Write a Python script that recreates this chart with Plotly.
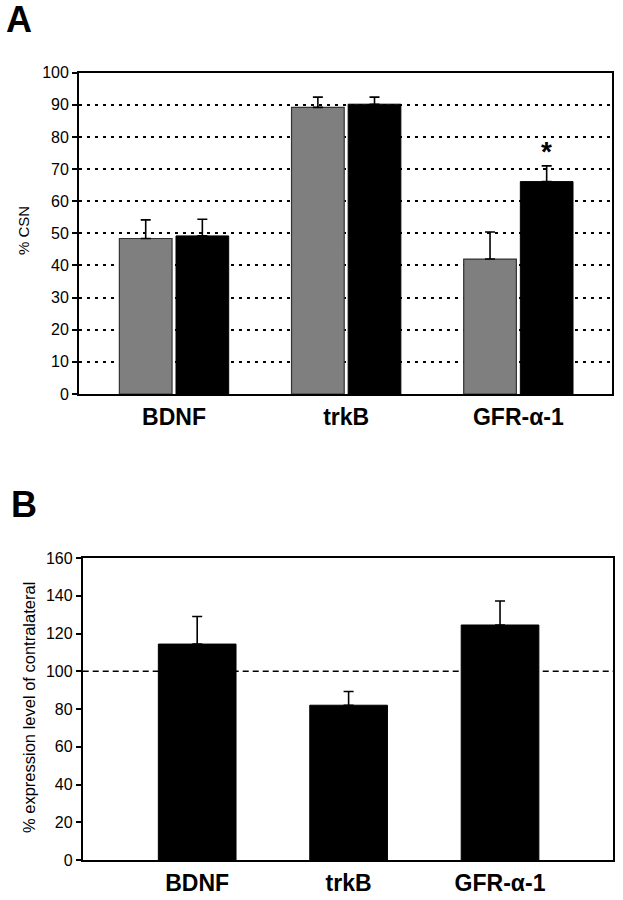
import plotly.graph_objects as go

# ---------------- data ----------------
CATEGORIES = ["BDNF", "trkB", "GFR-α-1"]

# Panel A: % CSN
A_GRAY = [48.4, 89.2, 42.0]
A_GRAY_ERR = [5.8, 3.2, 8.4]
A_BLACK = [49.2, 90.2, 66.1]
A_BLACK_ERR = [5.2, 2.2, 4.9]
A_TICKS = [0, 10, 20, 30, 40, 50, 60, 70, 80, 90, 100]
A_STAR_CAT = "GFR-α-1"
A_STAR_Y = 75.5

# Panel B: % expression level of contralateral
B_VALUES = [114.4, 82.0, 124.5]
B_ERR = [14.6, 7.3, 12.7]
B_TICKS = [0, 20, 40, 60, 80, 100, 120, 140, 160]
B_REF = 100

# ---------------- styling ----------------
FONT = "Liberation Sans, Arial, Helvetica, sans-serif"
W, H = 623, 900
A_BARGAP = 0.342
A_GROUPGAP = 0.07
B_BARGAP = 0.487

fig = go.Figure()

err_style = dict(type="data", symmetric=False, arrayminus=None,
                 thickness=1.6, width=5, color="black")

fig.add_trace(go.Bar(
    x=CATEGORIES, y=A_GRAY, xaxis="x", yaxis="y",
    marker=dict(color="#7f7f7f", line=dict(color="#333333", width=1.2)),
    error_y=dict(array=A_GRAY_ERR, **err_style),
    showlegend=False, offsetgroup="a1"))
fig.add_trace(go.Bar(
    x=CATEGORIES, y=A_BLACK, xaxis="x", yaxis="y",
    marker=dict(color="black", line=dict(color="black", width=1)),
    error_y=dict(array=A_BLACK_ERR, **err_style),
    showlegend=False, offsetgroup="a2"))

fig.add_trace(go.Bar(
    x=CATEGORIES, y=B_VALUES, xaxis="x2", yaxis="y2",
    marker=dict(color="black", line=dict(color="black", width=1)),
    error_y=dict(array=B_ERR, **err_style),
    width=1 - B_BARGAP,
    showlegend=False))

axis_common = dict(showline=True, linecolor="black", linewidth=1.8,
                   mirror=True, automargin=False, zeroline=False)

fig.update_layout(
    width=W, height=H,
    margin=dict(l=0, r=0, t=0, b=0),
    paper_bgcolor="white", plot_bgcolor="white",
    barmode="group", bargap=A_BARGAP, bargroupgap=A_GROUPGAP,
    font=dict(family=FONT, color="black"),
    xaxis=dict(domain=[79 / W, 612 / W], anchor="y", type="category",
               range=[-0.552, 2.544], ticks="", showgrid=False,
               tickfont=dict(size=23, weight="bold", family=FONT, color="black"),
               ticklabelstandoff=1, **axis_common),
    yaxis=dict(domain=[1 - 394 / H, 1 - 72.7 / H], anchor="x",
               range=[0, 100], tickvals=A_TICKS, ticks="outside",
               ticklen=5, tickwidth=1.6, tickcolor="black",
               tickfont=dict(size=16, family=FONT, color="black"),
               showgrid=True, gridcolor="black", gridwidth=2,
               griddash="3px,5px", **axis_common),
    xaxis2=dict(domain=[82.7 / W, 613.3 / W], anchor="y2", type="category",
                range=[-0.756, 2.748], ticks="", showgrid=False,
                tickfont=dict(size=23, weight="bold", family=FONT, color="black"),
                ticklabelstandoff=1, **axis_common),
    yaxis2=dict(domain=[1 - 860 / H, 1 - 558 / H], anchor="x2",
                range=[0, 160], tickvals=B_TICKS, ticks="outside",
                ticklen=5, tickwidth=1.6, tickcolor="black",
                tickfont=dict(size=16, family=FONT, color="black"),
                showgrid=False, **axis_common),
)

# reference line at 100% in panel B
fig.add_shape(type="line", xref="x2 domain", yref="y2", x0=0, x1=1,
              y0=B_REF, y1=B_REF, layer="below",
              line=dict(color="black", width=1.5, dash="6px,4px"))

# significance star over the black GFR bar
star_x = CATEGORIES.index(A_STAR_CAT) + (1 - A_BARGAP) / 4
fig.add_annotation(x=star_x, y=A_STAR_Y, xref="x", yref="y", text="*",
                   showarrow=False,
                   font=dict(size=28, family=FONT, weight="bold", color="black"),
                   xanchor="center", yanchor="middle")

# axis titles
fig.add_annotation(x=24 / W, y=1 - 231 / H, xref="paper", yref="paper",
                   xanchor="center", yanchor="middle",
                   text="% CSN", textangle=-90, showarrow=False,
                   font=dict(size=15, family=FONT, color="black"))
fig.add_annotation(x=29 / W, y=1 - 708 / H, xref="paper", yref="paper",
                   xanchor="center", yanchor="middle",
                   text="% expression level of contralateral", textangle=-90,
                   showarrow=False, font=dict(size=16.5, family=FONT, color="black"))

# panel letters
fig.add_annotation(x=4 / W, y=1 + 3 / H, xref="paper", yref="paper",
                   xanchor="left", yanchor="top", text="A", showarrow=False,
                   font=dict(size=36, family=FONT, weight="bold", color="black"))
fig.add_annotation(x=9 / W, y=1 - 482 / H, xref="paper", yref="paper",
                   xanchor="left", yanchor="top", text="B", showarrow=False,
                   font=dict(size=36, family=FONT, weight="bold", color="black"))

fig.write_html("out.html",
               config={"displayModeBar": False},
               post_script="document.body.style.margin='0';"
                           "document.body.style.overflow='hidden';")
